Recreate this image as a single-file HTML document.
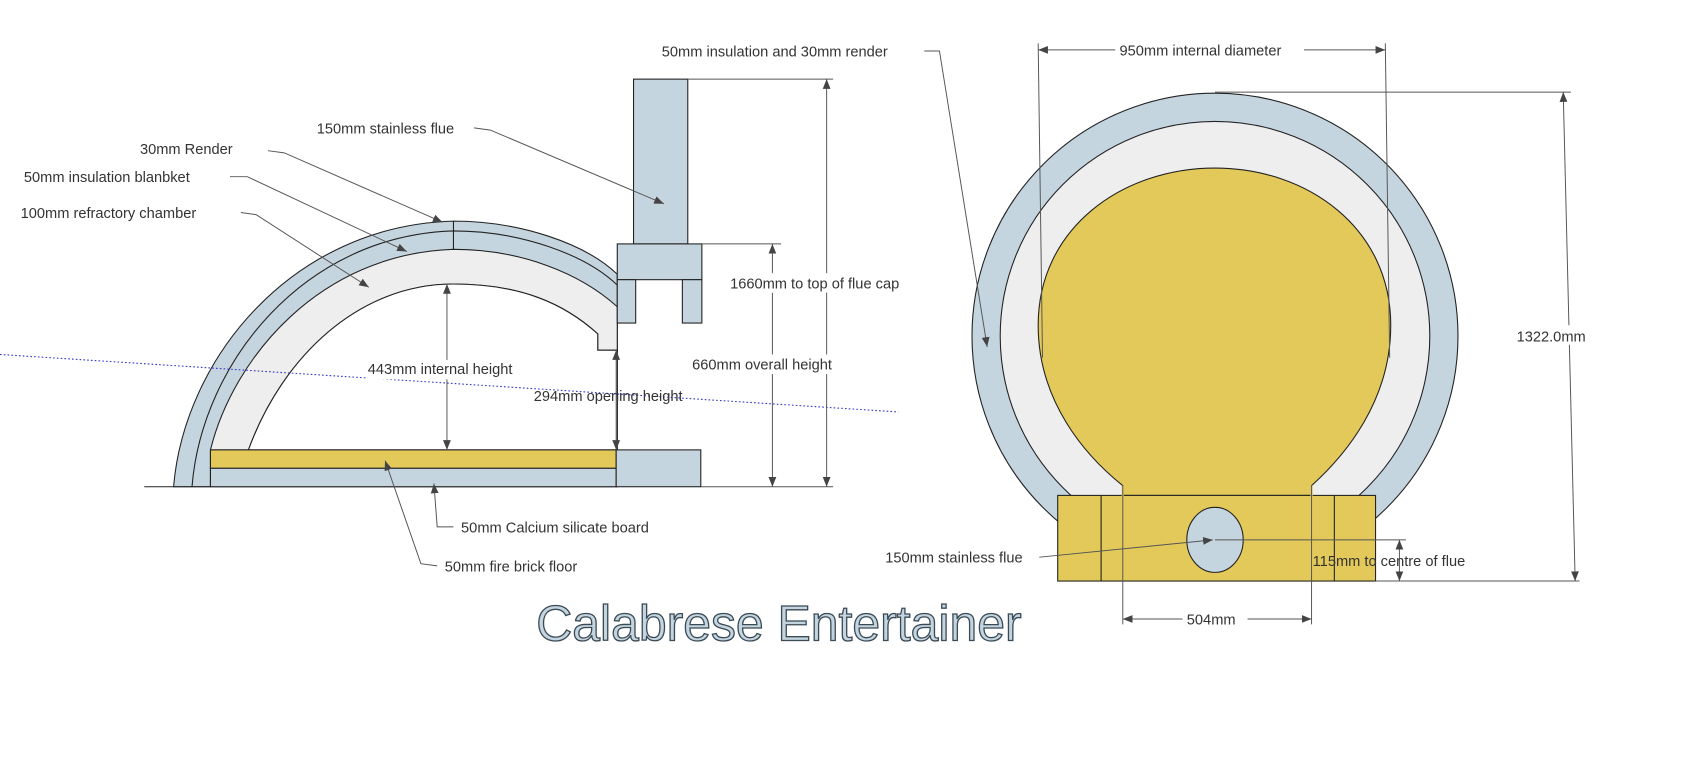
<!DOCTYPE html>
<html><head><meta charset="utf-8"><style>
html,body{margin:0;padding:0;background:#fff;width:1701px;height:761px;overflow:hidden}
svg{display:block}
text{font-family:"Liberation Sans",sans-serif;font-size:13.5px;fill:#333}
</style></head><body>
<svg width="1701" height="761" viewBox="0 0 1568 702" preserveAspectRatio="none" xmlns="http://www.w3.org/2000/svg">
<defs>
<marker id="a" viewBox="0 0 10 10" refX="10" refY="5" markerWidth="9" markerHeight="9" orient="auto-start-reverse" markerUnits="userSpaceOnUse"><path d="M0,1 L10,5 L0,9 Z" fill="#444"/></marker>
</defs>
<g stroke="#222" stroke-width="1">
<!-- left dome -->
<path d="M160,449 C170,330 270,208 418,204 C480,204 540,225 569,253 L569,449 Z" fill="#c5d5df"/>
<path d="M177,449 C186,335 280,217 418,213 C480,213 540,235 569,263" fill="none"/>
<path d="M194,449 L194,415 C215,330 295,234 418,230 C480,230 535,252 569,283 L569,323 L551,323 L551,308 C520,280 480,262 418,262 C330,262 260,330 229,415 L194,415" fill="#eee"/>
<path d="M229,415 C260,330 330,262 418,262 C480,262 520,280 551,308 L551,323 L569,323 L569,415 Z" fill="#fff"/>
<line x1="418" y1="204" x2="418" y2="230"/>
<!-- floor -->
<rect x="194" y="415" width="374" height="17" fill="#e2c95a"/>
<rect x="194" y="432" width="374" height="17" fill="#c5d5df"/>
<rect x="568" y="415" width="78" height="34" fill="#c5d5df"/>
<!-- flue -->
<rect x="584" y="73" width="50" height="152" fill="#c5d5df"/>
<rect x="569" y="225" width="78" height="33" fill="#c5d5df"/>
<rect x="569" y="258" width="17" height="40" fill="#c5d5df"/>
<rect x="629" y="258" width="18" height="40" fill="#c5d5df"/>
<line x1="133" y1="449" x2="194" y2="449"/>
</g>
<line x1="0" y1="327" x2="828" y2="380" stroke="#33c" stroke-width="1" stroke-dasharray="1.5,2"/>
<!-- left dims -->
<g stroke="#555" stroke-width="0.9" fill="none">
<line x1="634" y1="73" x2="768" y2="73"/>
<line x1="646" y1="449" x2="768" y2="449"/>
<line x1="647" y1="225" x2="720" y2="225"/>
<line x1="762" y1="73" x2="762" y2="449" marker-start="url(#a)" marker-end="url(#a)"/>
<line x1="712" y1="225" x2="712" y2="449" marker-start="url(#a)" marker-end="url(#a)"/>
<line x1="412" y1="262" x2="412" y2="415" marker-start="url(#a)" marker-end="url(#a)"/>
<line x1="568" y1="323" x2="568" y2="415" marker-start="url(#a)" marker-end="url(#a)"/>
<polyline points="437,118 452,120 612,188" marker-end="url(#a)"/>
<polyline points="247,139 262,141 408,205" marker-end="url(#a)"/>
<polyline points="212,163 228,163 375,232" marker-end="url(#a)"/>
<polyline points="222,196 236,198 340,265" marker-end="url(#a)"/>
<polyline points="418,486 403,486 400,446" marker-end="url(#a)"/>
<polyline points="403,522 388,520 355,425" marker-end="url(#a)"/>
</g>
<g>
<rect x="672" y="252" width="180" height="18" fill="#fff"/>
<rect x="636" y="327" width="150" height="18" fill="#fff"/>
<rect x="338" y="332" width="146" height="18" fill="#fff"/>
<text x="673" y="266">1660mm to top of flue cap</text>
<text x="638" y="341">660mm overall height</text>
<text x="339" y="345">443mm internal height</text>
<text x="492" y="370">294mm opening height</text>
<text x="292" y="123">150mm stainless flue</text>
<text x="129" y="142">30mm Render</text>
<text x="22" y="168">50mm insulation blanbket</text>
<text x="19" y="201">100mm refractory chamber</text>
<text x="425" y="491">50mm Calcium silicate board</text>
<text x="410" y="527">50mm fire brick floor</text>
</g>
<!-- right view -->
<g stroke="#222" stroke-width="1">
<circle cx="1120" cy="310" r="224" fill="#c5d5df"/>
<circle cx="1120" cy="310" r="198" fill="#eee"/>
<path d="M1035,457 L1035,448 C1000,420 957,370 957,300 C957,210 1035,155 1120,155 C1205,155 1282,210 1282,300 C1282,370 1240,420 1209,448 L1209,457 Z" fill="#e2c95a"/>
<rect x="975" y="457" width="293" height="79" fill="#e2c95a"/>
<line x1="1015" y1="457" x2="1015" y2="536"/>
<line x1="1230" y1="457" x2="1230" y2="536"/>
<line x1="1035" y1="448" x2="1035" y2="460" stroke="#e2c95a" stroke-width="2"/>
<line x1="1209" y1="448" x2="1209" y2="460" stroke="#e2c95a" stroke-width="2"/>
<ellipse cx="1120" cy="498" rx="26" ry="30" fill="#c5d5df"/>
</g>
<g stroke="#555" stroke-width="0.9" fill="none">
<line x1="957" y1="40" x2="961" y2="330"/>
<line x1="1277" y1="40" x2="1281" y2="330"/>
<line x1="957" y1="46" x2="1277" y2="46" marker-start="url(#a)" marker-end="url(#a)"/>
<line x1="1120" y1="85" x2="1448" y2="85"/>
<line x1="1268" y1="536" x2="1456" y2="536"/>
<line x1="1441" y1="85" x2="1452" y2="536" marker-start="url(#a)" marker-end="url(#a)"/>
<line x1="1035" y1="448" x2="1035" y2="576"/>
<line x1="1209" y1="448" x2="1209" y2="576"/>
<line x1="1035" y1="571" x2="1209" y2="571" marker-start="url(#a)" marker-end="url(#a)"/>
<line x1="1120" y1="498" x2="1296" y2="498"/>
<line x1="1290" y1="498" x2="1290" y2="536" marker-start="url(#a)" marker-end="url(#a)"/>
<polyline points="958,514 1118,498" marker-end="url(#a)"/>
<polyline points="852,47 866,47 910,320" marker-end="url(#a)"/>
</g>
<g>
<rect x="1028" y="37" width="174" height="18" fill="#fff"/>
<rect x="1395" y="300" width="90" height="18" fill="#fff"/>
<rect x="1090" y="562" width="60" height="18" fill="#fff"/>
<text x="1032" y="51">950mm internal diameter</text>
<text x="1398" y="315">1322.0mm</text>
<text x="1094" y="576">504mm</text>
<text x="1210" y="522">115mm to centre of flue</text>
<text x="816" y="519">150mm stainless flue</text>
<text x="610" y="52">50mm insulation and 30mm render</text>
<text x="718" y="591" text-anchor="middle" style="font-size:46px;fill:#c5d5df;stroke:#3a4a55;stroke-width:1.2">Calabrese Entertainer</text>
</g>
</svg>
</body></html>
